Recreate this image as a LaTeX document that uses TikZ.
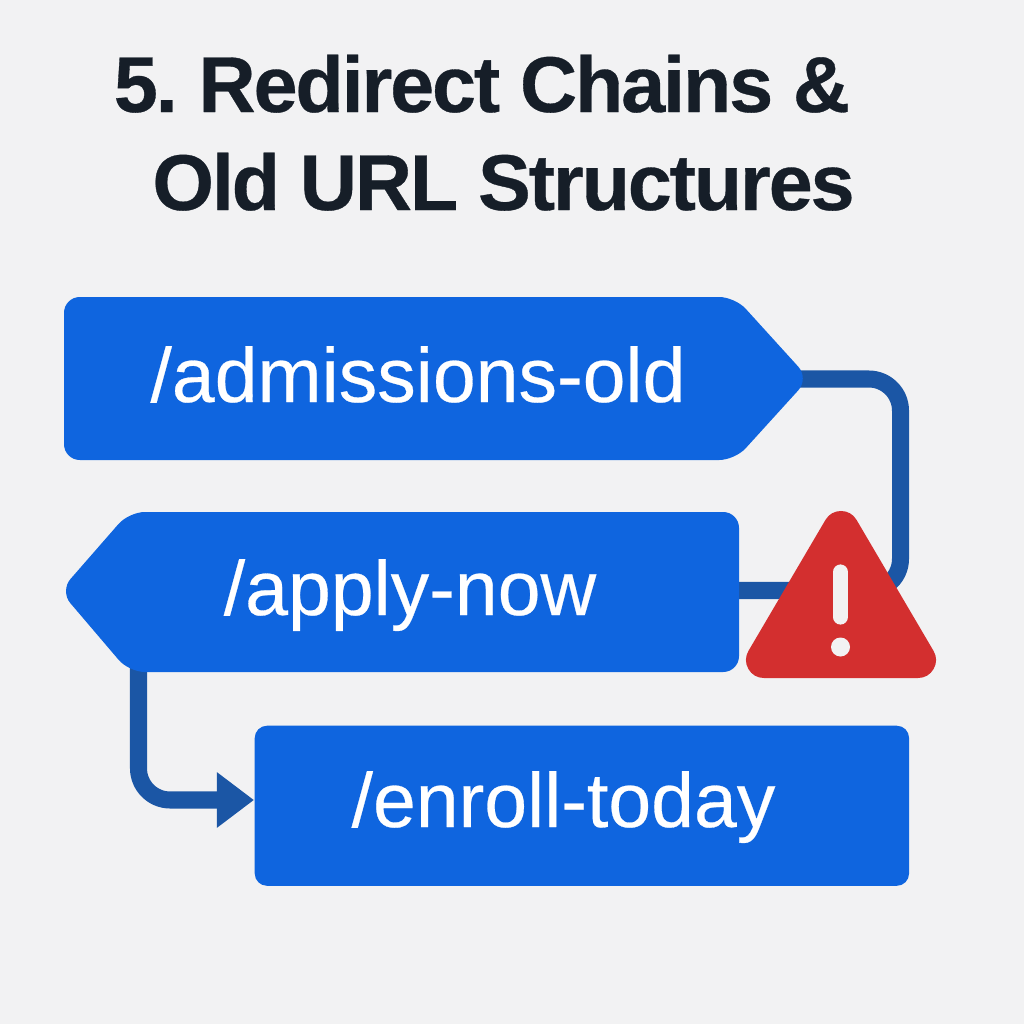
\documentclass[tikz,border=0pt]{standalone}
\usepackage{fontspec}
\setmainfont{Liberation Sans}
\newfontfamily\urlfont[FakeBold=0.35]{Liberation Sans}
\newfontfamily\titlefont[LetterSpace=-2.7,FakeBold=0.4]{Liberation Sans Bold}
\usepackage{tikz}
\usetikzlibrary{arrows.meta,positioning}
\definecolor{pagebg}{HTML}{F2F2F3}
\definecolor{urlblue}{HTML}{0F65DF}
\definecolor{linkblue}{HTML}{1B56A5}
\definecolor{warnred}{HTML}{D32F2F}
\definecolor{titleink}{HTML}{161E28}
\tikzset{
  titletext/.style={font=\titlefont\fontsize{22.5}{24}\selectfont,text=titleink,inner sep=0pt,anchor=base},
  urltext/.style={font=\urlfont\fontsize{21.9}{24}\selectfont,text=white,inner sep=0pt,anchor=base},
  urlshape/.style={fill=urlblue,rounded corners=4.5pt},
  redirect/.style={draw=linkblue,line width=4.84pt,rounded corners=9pt},
}
\begin{document}
\begin{tikzpicture}[x=0.01cm,y=-0.01cm,line join=round]
\path[use as bounding box,fill=pagebg] (0,0) rectangle (1024,1024);
\node[titletext] (titleone) at (482,112) {5.\kern-1.6pt{} Redirect Chains \&};
\node[titletext] (titletwo) at (503.5,210) {Old URL Structures};
\coordinate (admtip) at (800,379);
\coordinate (applyedge) at (735,590.5);
\coordinate (applytip) at (138.5,660);
\node[fill=urlblue,rounded corners=3.5pt,minimum width=6.54cm,minimum height=1.60cm,inner sep=0pt,anchor=north west] (enrollbox) at (254,725) {};
\draw[redirect] (admtip) -- (900.5,379) -- (900.5,590.5) -- (applyedge);
\draw[redirect,-{Triangle[length=.37cm,width=.53cm]}] (applytip) -- (138.5,800) -- (enrollbox.west |- 0,800);
\fill[urlshape] (64,297) -- (735,297) -- (809,378.5) -- (735,460) -- (64,460) -- cycle;
\fill[urlshape] (739,512) -- (129,512) -- (60,591) -- (129,672) -- (739,672) -- cycle;
\node[urltext] (admissions) at (418,402) {/admissions-old};
\node[urltext] (apply) at (410,615) {/apply-now};
\node[urltext] (enroll) at (563.5,827) {/enroll-today};
% warning sign
\filldraw[warnred,line width=.36cm] (841,529) -- (918,660) -- (764,660) -- cycle;
\draw[pagebg,line width=4.3pt,line cap=round] (840.5,572) -- (840.5,617);
\fill[pagebg] (840.5,647) circle (9.5);
\end{tikzpicture}
\end{document}
